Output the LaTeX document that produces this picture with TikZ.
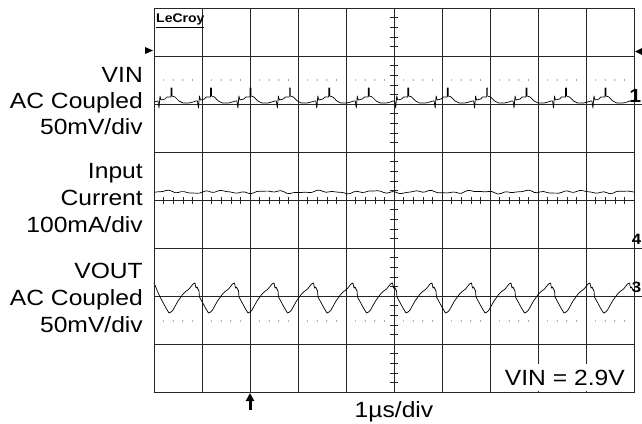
\documentclass[tikz,border=0pt]{standalone}
\usepackage{fontspec}
\setmainfont{Liberation Sans}[FakeStretch=1.12]
\usetikzlibrary{arrows.meta}

\begin{document}
\begin{tikzpicture}[
    x=1pt, y=-1pt,
    gridline/.style={draw=black!85, line width=0.8pt},
    axistick/.style={draw=black!85, line width=0.6pt},
    wave/.style={draw=black, line width=0.7pt, line join=round},
    griddot/.style={fill=black!70},
    chlabel/.style={anchor=base east, inner sep=0pt,
        font=\fontsize{22}{26}\selectfont},
    chmark/.style={anchor=base east, inner sep=0pt,
        font=\fontsize{15}{18}\selectfont\bfseries},
    notebox/.style={chlabel, fill=white, inner xsep=7pt, inner ysep=6pt},
    logo/.style={anchor=base west, inner sep=0pt,
        font=\fontsize{12.5}{14}\selectfont\bfseries},
    trigarrow/.style={draw=black, line width=3pt, -{Triangle[length=8pt,width=8pt]}}
]
    \useasboundingbox (0,0) rectangle (642,423);
    % screen grid
    \foreach \i in {0,...,10}
        \draw[gridline] (154+48*\i,8) -- (154+48*\i,392);
    \foreach \j in {0,...,8}
        \draw[gridline] (154,8+48*\j) -- (634,8+48*\j);
    \foreach \m in {1,...,49}
        \draw[axistick] (154+9.6*\m,196.5) -- (154+9.6*\m,203.5);
    \foreach \m in {1,...,39}
        \draw[axistick] (390,8+9.6*\m) -- (398,8+9.6*\m);
    \foreach \i in {0,...,9}
        \foreach \j in {1,...,4} {
            \fill[griddot] (154+48*\i+9.6*\j,80) circle (0.6);
            \fill[griddot] (154+48*\i+9.6*\j,321) circle (0.6);
        }
    % traces
    \draw[wave] (154,102) \foreach \k [evaluate=\k as \sk using 171+39.45*\k] in {0,...,11} {
        -- (\sk-13,101) -- (\sk-12,108) -- (\sk-11,96) -- (\sk-10,100) -- (\sk-6,99)
        -- (\sk-4,97) -- (\sk,97) -- (\sk,88) -- (\sk+1,88) -- (\sk+1,96) -- (\sk+4,97)
        -- (\sk+8,101) -- (\sk+12,103) -- (\sk+18,103) -- (\sk+22,102) -- (\sk+25,101)
    } -- (634,100);
    \draw[wave] plot[domain=0:480, samples=160]
        (\x+154, {192 - 0.9*sin(7*\x) + 0.7*sin(19*\x+30) - 0.5*sin(29*\x)});
    \draw[wave] (154,283) \foreach \k [evaluate=\k as \tr using 170+39.5*\k] in {0,...,11} {
        -- (\tr-10,297) -- (\tr-4,308) -- (\tr-1,313) -- (\tr+1,312) -- (\tr+3,310)
        -- (\tr+8,301) -- (\tr+13,294) -- (\tr+15,292) -- (\tr+19,289) -- (\tr+23,284)
        -- (\tr+25,283) -- (\tr+26,288) -- (\tr+27,287) -- (\tr+29,291)
    };
    % note and frame
    \node[notebox] (vinnote) at (632,385) {VIN = 2.9V};
    \draw[gridline] (154,8) rectangle (634,392);
    \node[logo] (logo) at (156,23) {\underline{LeCroy}};
    % channel labels
    \node[chlabel] (vinname) at (143,82) {VIN};
    \node[chlabel] (vincoupling) at (143,108) {AC Coupled};
    \node[chlabel] (vinscale) at (143,134) {50mV/div};
    \node[chlabel] (iinname) at (143,178) {Input};
    \node[chlabel] (iincurrent) at (143,205) {Current};
    \node[chlabel] (iinscale) at (143,232) {100mA/div};
    \node[chlabel] (voutname) at (143,278) {VOUT};
    \node[chlabel] (voutcoupling) at (143,305) {AC Coupled};
    \node[chlabel] (voutscale) at (143,332) {50mV/div};
    \node[chlabel, anchor=base] (timebase) at (394,417) {1µs/div};
    % channel markers
    \node[chmark, font=\fontsize{19}{22}\selectfont\bfseries] (ch1mark) at (641.5,102) {1};
    \node[chmark] (ch4mark) at (641.5,244) {4};
    \node[chmark] (ch3mark) at (641.5,292) {3};
    \foreach \y in {104,248,296}
        \draw[gridline] (634,\y) -- (642,\y);
    \fill (145,47) -- (153,50.5) -- (145,54) -- cycle;
    \fill (642,48) -- (635,51.5) -- (642,55) -- cycle;
    % trigger point
    \coordinate (trigbase) at (250,410);
    \coordinate (trigtip) at (250,393);
    \draw[trigarrow] (trigbase) -- (trigtip);
\end{tikzpicture}
\end{document}
